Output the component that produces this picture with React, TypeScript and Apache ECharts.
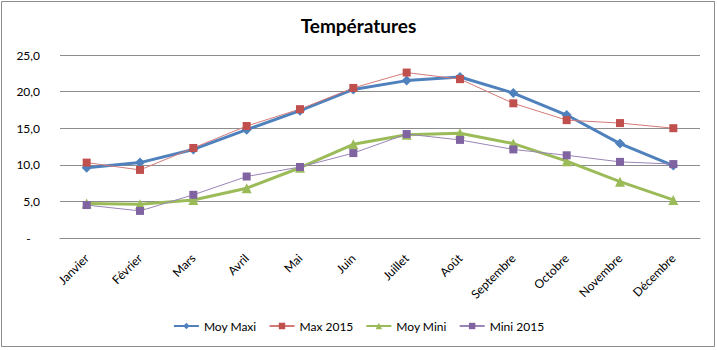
import React, { useEffect, useRef } from "react";
import * as echarts from "echarts";

const months = ["Janvier", "Février", "Mars", "Avril", "Mai", "Juin", "Juillet", "Août", "Septembre", "Octobre", "Novembre", "Décembre"];
const moyMaxi = [9.6, 10.3, 12.1, 14.8, 17.4, 20.3, 21.5, 22.0, 19.8, 16.8, 12.9, 9.9];
const max2015 = [10.3, 9.3, 12.3, 15.3, 17.6, 20.5, 22.6, 21.7, 18.4, 16.1, 15.7, 15.0];
const moyMini = [4.7, 4.6, 5.2, 6.8, 9.6, 12.8, 14.1, 14.3, 12.9, 10.5, 7.7, 5.2];
const mini2015 = [4.5, 3.7, 5.9, 8.4, 9.7, 11.6, 14.2, 13.4, 12.1, 11.3, 10.4, 10.1];
const yTicks = { min: 0, max: 25, interval: 5 };

const FONT = "Lato, 'Open Sans', sans-serif";

export default function App() {
  const ref = useRef<HTMLDivElement>(null);
  useEffect(() => {
    document.body.style.margin = "0";
    const chart = echarts.init(ref.current!, null, { renderer: "svg" });
    chart.setOption({
      animation: false,
      backgroundColor: "#ffffff",
      textStyle: { fontFamily: FONT },
      graphic: [
        {
          type: "rect",
          shape: { x: 1.5, y: 1.5, width: 713, height: 345 },
          style: { fill: "none", stroke: "#8c8c8c", lineWidth: 1 },
          silent: true,
        },
      ],
      title: {
        text: "Températures",
        left: "center",
        top: 11,
        textStyle: { fontFamily: FONT, fontSize: 19, fontWeight: "bold", color: "#000" },
      },
      legend: {
        bottom: 13,
        left: "center",
        itemWidth: 25,
        itemHeight: 8,
        itemGap: 12,
        textStyle: { fontFamily: FONT, fontSize: 12, color: "#000" },
        data: ["Moy Maxi", "Max 2015", "Moy Mini", "Mini 2015"],
      },
      grid: { left: 60, right: 17, top: 55, bottom: 112, containLabel: false },
      xAxis: {
        type: "category",
        data: months,
        boundaryGap: true,
        axisLine: { show: true, lineStyle: { color: "#8c8c8c", width: 1 } },
        axisTick: { show: false },
        axisLabel: { rotate: 45, fontFamily: FONT, fontSize: 12, color: "#000", margin: 18, interval: 0 },
      },
      yAxis: {
        type: "value",
        min: yTicks.min,
        max: yTicks.max,
        interval: yTicks.interval,
        axisLine: { show: false },
        axisTick: { show: false },
        splitLine: { lineStyle: { color: "#8c8c8c", width: 1 } },
        axisLabel: {
          fontFamily: FONT,
          fontSize: 12,
          color: "#000",
          margin: 20,
          formatter: (v: number) => (v === 0 ? "-   " : v.toFixed(1).replace(".", ",")),
        },
      },
      series: [
        {
          name: "Moy Maxi",
          type: "line",
          data: moyMaxi,
          symbol: "diamond",
          symbolSize: 10,
          color: "#4F81BD",
          lineStyle: { width: 3, color: "#4F81BD" },
          itemStyle: { color: "#4F81BD" },
        },
        {
          name: "Max 2015",
          type: "line",
          data: max2015,
          symbol: "rect",
          symbolSize: 8,
          color: "#C0504D",
          lineStyle: { width: 1, color: "#D27a78" },
          itemStyle: { color: "#C0504D" },
        },
        {
          name: "Moy Mini",
          type: "line",
          data: moyMini,
          symbol: "triangle",
          symbolSize: 10,
          color: "#9BBB59",
          lineStyle: { width: 3, color: "#9BBB59" },
          itemStyle: { color: "#9BBB59" },
        },
        {
          name: "Mini 2015",
          type: "line",
          data: mini2015,
          symbol: "rect",
          symbolSize: 8,
          color: "#8064A2",
          lineStyle: { width: 1, color: "#9a85b6" },
          itemStyle: { color: "#8064A2" },
        },
      ],
    });
    return () => chart.dispose();
  }, []);
  return <div ref={ref} style={{ width: 717, height: 350 }} />;
}
